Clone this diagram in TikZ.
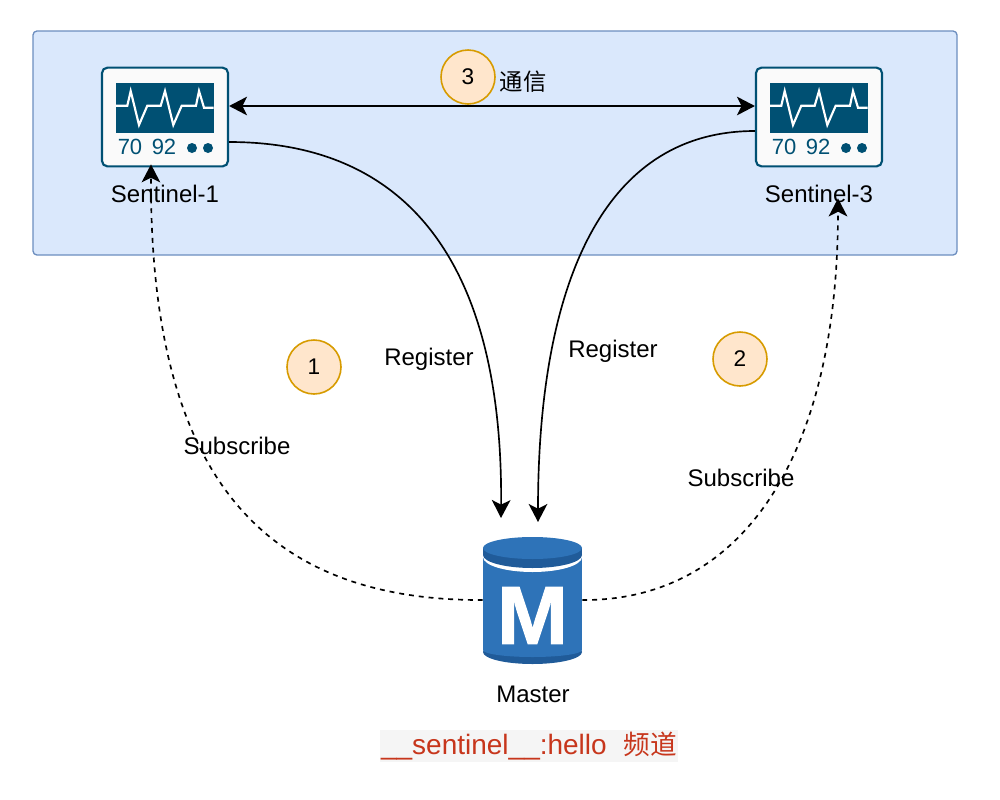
\documentclass[tikz,border=0pt]{standalone}
\usepackage{fontspec}
\setmainfont{Liberation Sans}
\newfontfamily\cjk{Noto Sans CJK SC}
\usetikzlibrary{arrows.meta}
\definecolor{groupfill}{HTML}{DAE8FC}
\definecolor{groupline}{HTML}{6C8EBF}
\definecolor{badgefill}{HTML}{FFE6CC}
\definecolor{badgeline}{HTML}{D79B00}
\definecolor{monitor}{HTML}{005073}
\definecolor{dbblue}{HTML}{2E73B8}
\definecolor{dbdark}{HTML}{205B99}
\definecolor{chanred}{HTML}{C7361C}
\definecolor{chanbg}{HTML}{F5F5F5}
\tikzset{
  x=0.75pt,y=-0.75pt,
  lbl/.style={font=\fontsize{18}{20}\selectfont,inner sep=0pt,text=black},
  badge/.style={circle,draw=badgeline,fill=badgefill,line width=1.2pt,minimum size=40.5pt,inner sep=0pt,font=\fontsize{17}{20}\selectfont},
  monbox/.style={draw=monitor,fill=white!98!black,line width=1.6pt,rounded corners=4pt,minimum width=94.5pt,minimum height=74pt,inner sep=0pt},
  dbbox/.style={minimum width=74.25pt,minimum height=94.5pt,inner sep=0pt},
  link/.style={draw=black,line width=1.25pt,-{Stealth[length=13.5pt,width=14pt,inset=3.5pt]}},
  sub/.style={link,dash pattern=on 3.7pt off 3.7pt},
}
\begin{document}
\begin{tikzpicture}
\useasboundingbox (0,0) rectangle (1000,800);
\node[draw=groupline,fill=groupfill,line width=1pt,rounded corners=3pt,minimum width=693pt,minimum height=168pt,inner sep=0pt] (group) at (495,143) {};

% sentinels
\foreach \n/\cx/\lab in {s1/165/Sentinel-1,s3/819/Sentinel-3}{
  \node[monbox] (\n) at (\cx,117) {};
  \begin{scope}[shift={(\cx,117)}]
    \fill[monitor] (-49,-34) rectangle (48.5,16);
    \draw[white,line width=1.6pt,line join=miter] (-49,-11.3) -- (-37.7,-11.3) -- (-34.3,-26) -- (-26,8) -- (-17.7,-11.3) -- (-4.3,-11.3) -- (0,-26) -- (8.3,8) -- (16.7,-11.3) -- (31,-11.3) -- (34,-26) -- (39,-9.3) -- (48.5,-9.3);
    \node[font=\fontsize{16.5}{18}\selectfont,text=monitor,inner sep=0pt] at (-35,30) {70};
    \node[font=\fontsize{16.5}{18}\selectfont,text=monitor,inner sep=0pt] at (-1,30) {92};
    \fill[monitor] (27,31) circle (5);
    \fill[monitor] (43,31) circle (5);
  \end{scope}
  \node[lbl] (\n l) at (\cx,194) {\lab};
}

% master
\node[dbbox] (m) at (532.5,600) {};
\fill[dbdark] (532.5,652) ellipse (49.5 and 12);
\fill[dbblue] (483,558) rectangle (582,650);
\fill[dbblue] (532.5,650) ellipse (49.5 and 7);
\fill[white] (532.5,557) ellipse (49.5 and 15);
\fill[dbdark] (483,548) rectangle (582,555);
\fill[dbdark] (532.5,555) ellipse (49.5 and 13);
\fill[dbblue] (532.5,548) ellipse (49.5 and 11);
\node[font=\bfseries\fontsize{62}{62}\selectfont\addfontfeature{FakeBold=1.2},text=white,inner sep=0pt] (mm) at (532.5,615.5) {\scalebox{1.03}[1]{M}};
\node[lbl] (ml) at (533,694) {Master};

% free ends
\coordinate (r1end) at (501,518);
\coordinate (r2end) at (538,522);

% connectors
\draw[link,{Stealth[length=13.5pt,width=14pt,inset=3.5pt]}-{Stealth[length=13.5pt,width=14pt,inset=3.5pt]}] ([yshift=8.25pt]s1.east) -- ([yshift=8.25pt]s3.west);
\draw[link] ([yshift=-18.75pt]s1.east) .. controls (420,142) and (503,280) .. (r1end);
\draw[link] ([yshift=-10.5pt]s3.west) .. controls (600,131) and (538,290) .. (r2end);
\draw[sub] (m.west) .. controls (250,601) and (150,460) .. ([xshift=-10.5pt,yshift=2.25pt]s1.south);
\draw[sub] (m.east) .. controls (740,601) and (838,460) .. ([xshift=14.25pt,yshift=-23.25pt]s3.south);

% labels
\node[badge] (b3) at (468,77) {3};
\node[badge] (b1) at (314,367) {1};
\node[badge] (b2) at (740,359) {2};
\node[lbl,font=\cjk\fontsize{17.5}{20}\selectfont] (t) at (523,82) {通信};
\node[lbl] (r1) at (429,359) {Register};
\node[lbl] (r2) at (613,351) {Register};
\node[lbl] (su1) at (237,446) {Subscribe};
\node[lbl] (su2) at (741,478) {Subscribe};
\node[fill=chanbg,text=chanred,inner sep=0pt,minimum width=223.5pt,minimum height=24pt,font=\fontsize{21}{22}\selectfont] (chan) at (529,746) {\_\_sentinel\_\_:hello\hspace{0.6em}{\cjk\fontsize{20}{22}\selectfont 频道}};
\end{tikzpicture}
\end{document}
